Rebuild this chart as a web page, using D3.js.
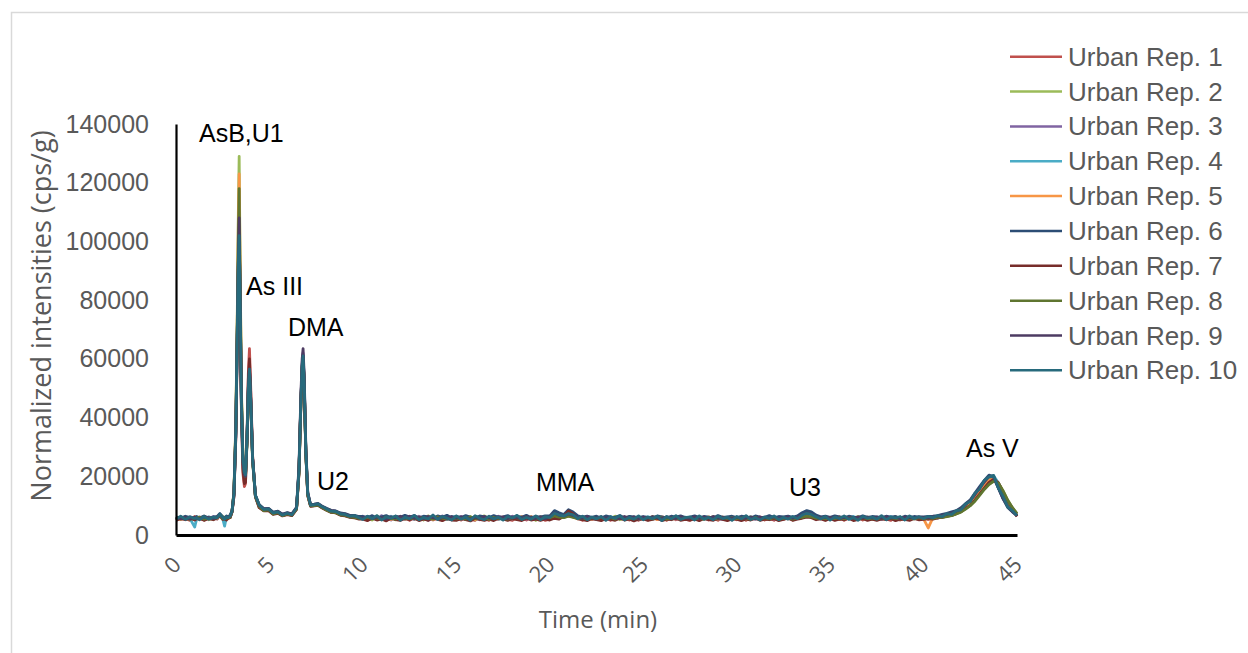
<!DOCTYPE html>
<html>
<head>
<meta charset="utf-8">
<script src="https://cdn.jsdelivr.net/npm/d3@7"></script>
<style>
  html, body { margin: 0; padding: 0; background: #ffffff; }
  svg { display: block; }
</style>
</head>
<body>
<svg id="chart" width="1248" height="653"></svg>
<script>
// Retention time grid (min), shared by all replicate runs
const times = [
  0, 0.25, 0.5, 0.75, 1.0, 1.1, 1.25, 1.5, 1.75, 2.0,
  2.2, 2.35, 2.5, 2.6, 2.7, 2.8, 2.9, 3.0, 3.1, 3.2,
  3.28, 3.34, 3.38, 3.42, 3.5, 3.58, 3.66, 3.72, 3.8, 3.87,
  3.93, 4.0, 4.1, 4.25, 4.45, 4.7, 4.95, 5.2, 5.45, 5.7,
  5.95, 6.2, 6.45, 6.58, 6.68, 6.75, 6.8, 6.86, 6.95, 7.05,
  7.2, 7.4, 7.6, 7.8, 8.05, 8.3, 8.55, 8.8, 9.05, 9.3,
  9.55, 9.8,
  10.0, 10.25, 10.5, 10.75, 11.0, 11.25, 11.5, 11.75, 12.0, 12.25,
  12.5, 12.75, 13.0, 13.25, 13.5, 13.75, 14.0, 14.25, 14.5, 14.75,
  15.0, 15.25, 15.5, 15.75, 16.0, 16.25, 16.5, 16.75, 17.0, 17.25,
  17.5, 17.75, 18.0, 18.25, 18.5, 18.75, 19.0, 19.25, 19.5, 19.75,
  20.0, 20.25, 20.5, 20.75, 21.0, 21.25, 21.5, 21.75, 22.0, 22.25,
  22.5, 22.75, 23.0, 23.25, 23.5, 23.75, 24.0, 24.25, 24.5, 24.75,
  25.0, 25.25, 25.5, 25.75, 26.0, 26.25, 26.5, 26.75, 27.0, 27.25,
  27.5, 27.75, 28.0, 28.25, 28.5, 28.75, 29.0, 29.25, 29.5, 29.75,
  30.0, 30.25, 30.5, 30.75, 31.0, 31.25, 31.5, 31.75, 32.0, 32.25,
  32.5, 32.75, 33.0, 33.25, 33.5, 33.75, 34.0, 34.25, 34.5, 34.75,
  35.0, 35.25, 35.5, 35.75, 36.0, 36.25, 36.5, 36.75, 37.0, 37.25,
  37.5, 37.75, 38.0, 38.25, 38.5, 38.75, 39.0, 39.25, 39.5, 39.75,
  40.0, 40.25, 40.5, 40.75, 41.0, 41.25, 41.5, 41.75, 42.0, 42.25,
  42.5, 42.75, 43.0, 43.25, 43.5, 43.75, 44.0, 44.25, 44.5, 44.75, 45.0
];

// Normalized intensities (cps/g) for each replicate
const rep1 = [
  5200, 6000, 5600, 5000, 6300, 5400, 5800, 5100, 6100, 5300,
  6200, 6700, 5700, 5200, 6000, 5600, 6300, 7900, 13000, 33000,
  66000, 92000, 104000, 84000, 42000, 21000, 16500, 17500, 34000, 55000,
  63500, 50000, 27000, 13000, 9400, 8300, 8500, 7200, 7600, 6600,
  7100, 6700, 8800, 21000, 44000, 56000, 60500, 51500, 27500, 13500,
  9800, 10000, 10200, 9400, 8700, 7800, 7700, 6900, 6600, 6200,
  6300, 5600,
  6100, 5000, 5900, 5300, 6300, 4900, 5700, 6000, 5200, 6200,
  5000, 6100, 5700, 5200, 6400, 5100, 5800, 5000, 6200, 5500,
  5900, 5100, 6300, 5400, 5000, 6100, 5600, 5000, 6000, 5300,
  6200, 5400, 5000, 6100, 5700, 5100, 6300, 5200, 5900, 5000,
  5400, 6500, 5600, 6600, 8000, 7000, 5900, 5000, 6100, 5300,
  6000, 5200, 5800, 5000, 6300, 5400, 5900, 5100, 6200, 5000,
  5700, 5100, 6200, 5300, 5900, 5000, 6100, 5200, 5800, 5400,
  5000, 6000, 5300, 6200, 5100, 5800, 5000, 6100, 5400, 5900,
  5200, 6100, 5000, 5900, 5400, 6200, 5100, 5700, 5000, 6000,
  5300, 6200, 5100, 5800, 6200, 6700, 6400, 5500, 6000, 5100,
  6000, 5200, 6200, 5000, 5800, 5300, 6100, 5100, 5900, 5400,
  5200, 5900, 5500, 5000, 6300, 5100, 5700, 5400, 6000, 5200,
  5900, 5300, 5700, 6000, 6100, 6800, 6900, 7500, 8300, 9500,
  10400, 12400, 14200, 16400, 18300, 19200, 17500, 14500, 11200, 8700, 6300
];
const rep2 = [
  6000, 5400, 6200, 5700, 5300, 6100, 5500, 6400, 5200, 5800,
  5600, 6900, 6300, 5900, 5500, 6400, 6000, 8000, 15000, 38000,
  76000, 112000, 129000, 100000, 50000, 27000, 21000, 20000, 31000, 48000,
  55000, 45000, 25500, 13200, 9900, 8400, 8700, 7300, 7700, 6700,
  7300, 6800, 9000, 21500, 44500, 57000, 60500, 51000, 27500, 13800,
  10000, 10100, 10300, 9500, 8600, 8000, 7700, 7000, 6800, 6300,
  6200, 5800,
  5700, 6200, 5100, 6500, 5400, 5900, 6300, 5200, 6000, 5600,
  6300, 5400, 5900, 5100, 6500, 5600, 6100, 5300, 6200, 5800,
  5300, 6000, 5700, 6300, 5200, 5900, 6500, 5400, 6100, 5600,
  5900, 5500, 6300, 5300, 6100, 5600, 6200, 5000, 6300, 5700,
  5800, 6600, 6200, 6000, 6500, 6300, 5700, 6200, 5500, 5900,
  6200, 5400, 6000, 5600, 6400, 5200, 5800, 6300, 5500, 5900,
  5900, 5300, 6300, 5700, 5500, 6100, 5300, 5900, 6200, 5400,
  5600, 6300, 5100, 5900, 5600, 6300, 5500, 5900, 5300, 6200,
  5500, 6000, 5400, 6200, 5700, 5500, 5900, 5300, 6100, 5600,
  6100, 5700, 5500, 6200, 5900, 6500, 6300, 5800, 6100, 5600,
  5700, 5900, 5300, 6200, 5600, 5800, 6300, 5500, 6100, 5300,
  6000, 5400, 5800, 5600, 6200, 5500, 6000, 5300, 5900, 5600,
  5400, 5900, 5600, 5800, 6100, 6400, 6700, 7300, 7900, 9000,
  10300, 11800, 13800, 15700, 17300, 18400, 17700, 15200, 12000, 9200, 7300
];
const rep3 = [
  5600, 5900, 5400, 6200, 5700, 5500, 6100, 5800, 5500, 6300,
  5400, 6800, 5800, 5600, 5800, 6200, 6000, 8100, 13800, 34000,
  68000, 93000, 106000, 85000, 44000, 24000, 20000, 20500, 32000, 49000,
  56000, 45500, 25800, 13400, 9900, 8600, 8700, 7400, 7800, 6800,
  7300, 7000, 9100, 22500, 46000, 58500, 62000, 53000, 28500, 14200,
  10100, 10200, 10400, 9600, 8800, 7900, 7800, 7100, 6800, 6400,
  6000, 6200,
  6400, 5500, 6100, 5300, 6600, 5600, 5100, 6300, 5700, 5400,
  5900, 5300, 6400, 5800, 5000, 6200, 5700, 6500, 5400, 6100,
  5600, 6300, 5300, 6000, 5900, 5200, 6200, 5700, 5300, 6400,
  5800, 5200, 6400, 5500, 6200, 5400, 5800, 5900, 5500, 6000,
  6200, 7000, 6400, 6300, 6900, 6500, 5900, 5500, 6000, 5700,
  5300, 6100, 5700, 5400, 6000, 5900, 5400, 6300, 5700, 5200,
  6000, 5600, 5400, 6100, 5700, 5500, 6200, 5400, 6000, 5700,
  5900, 5400, 6100, 5700, 5300, 6200, 5600, 5300, 5900, 5500,
  5800, 5300, 6100, 5700, 5400, 6000, 5500, 6200, 5400, 5900,
  5600, 6000, 5700, 5900, 6300, 6900, 6600, 5900, 5600, 6000,
  5500, 6100, 5800, 5400, 6100, 5600, 5500, 6200, 5400, 5800,
  5700, 5300, 6100, 5700, 5400, 5900, 5800, 5500, 6100, 5400,
  5800, 5600, 6100, 5700, 6600, 6500, 7400, 7600, 8800, 10000,
  11500, 13000, 15600, 17500, 19500, 19400, 16200, 12400, 9900, 8000, 6700
];
const rep4 = [
  5900, 5500, 6100, 5600, 2700, 5400, 6000, 5500, 6200, 5700,
  5900, 6700, 5600, 3000, 6100, 5800, 6400, 8000, 13500, 34500,
  69000, 92500, 101000, 84500, 45000, 25000, 21000, 20500, 32500, 49500,
  56000, 45500, 25500, 13000, 10000, 8600, 8800, 7500, 7800, 6700,
  7400, 6900, 9000, 21800, 44800, 57200, 60800, 51800, 27800, 13900,
  10000, 10200, 10400, 9600, 8800, 8000, 7900, 7100, 6900, 6300,
  6400, 5700,
  5500, 6300, 5800, 5400, 6100, 5600, 6400, 5300, 5900, 6200,
  5700, 6000, 5400, 6300, 5900, 5500, 6000, 5800, 5300, 6300,
  6100, 5700, 5900, 5500, 6200, 6000, 5600, 5900, 6300, 5400,
  5600, 6000, 5500, 6200, 5800, 6300, 5700, 5500, 6100, 5800,
  5900, 6800, 6400, 6100, 6700, 6200, 5800, 5600, 6200, 5500,
  5800, 5900, 5400, 6300, 5600, 6000, 5700, 5500, 6100, 5800,
  5500, 6200, 5800, 5600, 6000, 5700, 5600, 6200, 5500, 6100,
  5800, 5600, 6200, 5400, 5900, 5700, 6100, 5500, 6000, 5600,
  6000, 5600, 5800, 6100, 5500, 5900, 5700, 5400, 6100, 5800,
  5500, 6100, 5800, 5600, 6200, 6800, 6500, 5900, 5700, 5900,
  5900, 5500, 6000, 5800, 5500, 6300, 5700, 5900, 5500, 6000,
  5600, 6000, 5700, 6300, 5500, 5800, 6000, 5600, 5800, 6100,
  5700, 6000, 6200, 6400, 6300, 7000, 7200, 8000, 8500, 9800,
  11200, 13000, 15000, 17300, 19300, 20200, 17800, 14000, 10500, 8500, 6900
];
const rep5 = [
  5700, 5300, 5900, 5500, 6100, 5800, 5300, 6000, 5600, 5900,
  5500, 6900, 5800, 5700, 6000, 5600, 6200, 8100, 14500, 37000,
  74000, 108000, 123000, 96000, 49000, 26500, 22000, 21000, 32000, 49000,
  55500, 45000, 25500, 13300, 9800, 8500, 8600, 7300, 7700, 6600,
  7300, 6900, 9000, 21800, 45000, 57300, 60800, 51500, 27800, 13900,
  10100, 10100, 10300, 9500, 8700, 7900, 7800, 7000, 6800, 6300,
  6100, 5800,
  5900, 5400, 6200, 5700, 5500, 6300, 5300, 5800, 6100, 5500,
  5500, 6200, 5800, 5500, 6100, 5300, 6000, 5700, 6300, 5400,
  5800, 5500, 6100, 5700, 5300, 6200, 5800, 5500, 5800, 6000,
  5400, 5900, 5700, 5400, 6300, 5800, 5500, 6100, 5600, 5900,
  5600, 6700, 6000, 6200, 6500, 6200, 5500, 5900, 5700, 5400,
  5900, 5600, 6200, 5800, 5300, 6100, 5700, 5600, 5900, 5700,
  5800, 5500, 5900, 5300, 6200, 5800, 5700, 5500, 6100, 5600,
  5400, 6000, 5800, 5600, 6200, 5500, 5900, 5700, 5600, 6100,
  5700, 5900, 5600, 5500, 6200, 5800, 5400, 6000, 5700, 5500,
  5900, 5500, 6000, 5700, 6000, 6600, 6300, 5600, 6000, 5700,
  5600, 5800, 5400, 6100, 5900, 5500, 6100, 5700, 5800, 5600,
  5900, 5600, 5500, 5900, 6000, 5600, 5500, 6100, 5700, 5800,
  5500, 2400, 5900, 6100, 6500, 6800, 7200, 7900, 8600, 9600,
  11000, 12600, 14600, 17000, 19000, 19600, 17300, 13800, 10400, 8400, 6800
];
const rep6 = [
  6200, 5700, 6400, 5900, 5600, 6300, 5800, 6500, 5700, 6100,
  6300, 7300, 6200, 5900, 6500, 6100, 6800, 8300, 14200, 35500,
  70500, 95000, 103000, 86500, 46500, 26000, 21500, 20500, 33000, 50500,
  57000, 46000, 26000, 13500, 10400, 9000, 9100, 7800, 8100, 7100,
  7600, 7200, 9300, 22200, 45500, 57800, 61300, 52300, 28300, 14300,
  10400, 10500, 10800, 9900, 9100, 8400, 8200, 7500, 7300, 6700,
  6700, 6300,
  6300, 5900, 6600, 5700, 6200, 6600, 5800, 6400, 6000, 6700,
  6100, 6600, 5800, 6400, 6200, 5700, 6500, 6000, 6700, 5800,
  6400, 5900, 6600, 6100, 5700, 6500, 6200, 5900, 6600, 6000,
  6200, 6600, 5800, 6400, 6000, 6700, 5900, 6300, 6100, 6500,
  6500, 8300, 7600, 7000, 8600, 7800, 6500, 6100, 6400, 6000,
  6400, 5800, 6500, 6100, 6000, 6600, 5800, 6300, 6200, 5900,
  6300, 6000, 5800, 6500, 6200, 5800, 6400, 6100, 6500, 5900,
  6100, 6500, 5900, 6300, 6100, 5800, 6600, 6000, 6200, 6400,
  5900, 6400, 6200, 5800, 6500, 6100, 6000, 6600, 5900, 6300,
  6200, 6400, 6000, 6500, 7600, 8300, 7900, 6800, 6200, 6400,
  6000, 6500, 6200, 5900, 6400, 6100, 5900, 6500, 6000, 6300,
  6200, 5900, 6400, 6100, 6300, 5800, 6400, 6000, 6300, 6100,
  6200, 6300, 6400, 6600, 7000, 7400, 7900, 8300, 9300, 10700,
  12000, 14300, 16500, 18600, 20400, 19900, 16000, 12400, 9400, 7900, 6600
];
const rep7 = [
  5000, 5600, 5200, 5800, 5100, 5500, 5700, 5000, 5600, 5200,
  5800, 6500, 5300, 5500, 5100, 5800, 5900, 7800, 13200, 33500,
  67000, 93500, 105000, 85000, 43500, 22500, 17500, 18000, 33500, 53000,
  60000, 48000, 26500, 13000, 9300, 8200, 8300, 7000, 7400, 6500,
  6900, 6600, 8700, 21000, 44000, 56500, 60000, 51000, 27000, 13300,
  9800, 9900, 10100, 9300, 8400, 7700, 7500, 6700, 6500, 6000,
  5800, 5400,
  5400, 4900, 5700, 5100, 5500, 4800, 5800, 5200, 5000, 5600,
  5200, 5700, 4900, 5500, 5000, 5800, 5300, 4900, 5600, 5100,
  5000, 5600, 5200, 4800, 5700, 5300, 5000, 5500, 4900, 5700,
  5500, 5000, 5600, 5200, 4900, 5700, 5100, 5400, 5000, 5500,
  5100, 5700, 5400, 6400, 8200, 7200, 5500, 5200, 4900, 5600,
  5200, 4900, 5600, 5300, 5000, 5700, 5100, 5500, 4800, 5400,
  5500, 5000, 5300, 5700, 4900, 5400, 5200, 5800, 5000, 5300,
  5100, 5500, 4900, 5600, 5200, 5000, 5700, 5300, 4900, 5500,
  5400, 4900, 5500, 5100, 5700, 5000, 5400, 5200, 5600, 4900,
  5300, 5700, 5000, 5400, 5700, 6100, 5900, 5200, 5500, 5000,
  5600, 5000, 5400, 5200, 5700, 4900, 5300, 5600, 5000, 5400,
  5000, 5500, 5200, 5600, 4900, 5400, 5300, 5000, 5600, 5200,
  5300, 5600, 5400, 5800, 6000, 6400, 6700, 7300, 8000, 9100,
  10100, 11900, 13900, 16000, 17900, 18900, 17800, 14800, 11600, 9200, 6400
];
const rep8 = [
  5400, 6000, 5700, 5300, 5900, 5600, 6100, 5400, 5800, 5500,
  6100, 6700, 5500, 5800, 5700, 6000, 6100, 8000, 14500, 36500,
  73000, 103000, 118000, 92000, 48000, 25500, 20500, 20000, 31500, 48500,
  55000, 44500, 25000, 13000, 9700, 8300, 8600, 7200, 7600, 6600,
  7200, 6800, 8900, 21500, 44500, 56800, 60300, 51200, 27300, 13600,
  9900, 10000, 10200, 9400, 8500, 7800, 7600, 6900, 6700, 6200,
  6000, 5700,
  5600, 6000, 5500, 5800, 5300, 6100, 5700, 5400, 6200, 5500,
  5900, 5500, 6100, 5600, 5800, 5400, 6200, 5700, 5500, 6000,
  5500, 5900, 5400, 6100, 5700, 5600, 5900, 5300, 6000, 5700,
  5700, 5400, 6000, 5800, 5500, 6200, 5600, 5800, 5400, 6100,
  5900, 6500, 6100, 5900, 6400, 6000, 5600, 5800, 5400, 5900,
  5700, 6000, 5500, 5900, 5400, 5800, 6100, 5600, 5800, 5500,
  5600, 5900, 5500, 6000, 5800, 5400, 5900, 5700, 5500, 6000,
  5900, 5600, 5700, 5400, 6000, 5700, 5500, 6100, 5600, 5800,
  5600, 5800, 5700, 5400, 6000, 5600, 5800, 5500, 5900, 5400,
  5700, 5900, 5400, 5800, 6000, 6400, 6200, 5700, 5800, 5500,
  5800, 5600, 5900, 5500, 6000, 5700, 5500, 5900, 5600, 5700,
  5500, 5800, 5600, 5800, 5700, 5500, 5900, 5700, 5500, 5900,
  5600, 5800, 5700, 6000, 6000, 6300, 6600, 7200, 7800, 8800,
  10000, 11500, 13500, 15500, 17200, 18300, 17700, 15000, 11800, 9400, 7300
];
const rep9 = [
  5800, 5500, 6000, 5400, 6100, 5700, 5500, 6200, 5900, 5600,
  6000, 7000, 5900, 5600, 5900, 6300, 6400, 8200, 14000, 35000,
  69500, 95500, 108000, 87000, 45000, 25000, 20500, 20000, 32500, 50000,
  56500, 46000, 26000, 13500, 10100, 8900, 9000, 7600, 8000, 7000,
  7500, 7100, 9400, 23500, 47500, 60000, 63500, 54500, 29500, 14500,
  10300, 10400, 10600, 9800, 9000, 8300, 8100, 7300, 7100, 6500,
  6500, 6000,
  5800, 6300, 5600, 6100, 5900, 5400, 6200, 5800, 6400, 5700,
  6400, 5700, 6000, 5500, 6300, 5900, 5600, 6200, 5700, 6300,
  5700, 6200, 5900, 5400, 6100, 5600, 6300, 5800, 5600, 6200,
  6000, 5600, 6100, 5900, 5600, 6300, 5800, 5600, 6200, 5500,
  6300, 7500, 6700, 6500, 7200, 6700, 6000, 5700, 6300, 5800,
  5800, 6200, 5700, 6100, 5800, 5500, 6300, 5800, 6100, 5600,
  6100, 5700, 6300, 5800, 5600, 6200, 5900, 5600, 6300, 5800,
  5700, 6200, 5600, 6100, 5800, 6300, 5700, 6000, 5800, 5600,
  6100, 5800, 5700, 6200, 5600, 6100, 5900, 5800, 6200, 5700,
  5900, 6200, 5700, 6100, 6900, 7500, 7200, 6300, 5900, 6100,
  5800, 6200, 5700, 6000, 5900, 5700, 6200, 5800, 6100, 5700,
  6100, 5700, 6200, 5800, 6000, 5600, 6100, 5900, 5700, 6200,
  6000, 5800, 6200, 6400, 6700, 7100, 7500, 8200, 8900, 10300,
  11700, 13700, 16000, 18000, 19900, 19800, 16100, 12600, 9700, 8000, 6700
];
const rep10 = [
  5500, 6400, 5300, 6200, 5600, 5900, 5200, 6300, 5400, 6100,
  5800, 7100, 6000, 5400, 6200, 5900, 6600, 8200, 14000, 35000,
  70000, 94000, 102000, 86000, 46000, 26000, 21500, 20500, 33000, 50000,
  56500, 46000, 26000, 13500, 10200, 8700, 8900, 7500, 7900, 6800,
  7400, 6900, 9200, 22000, 45000, 57500, 61000, 52000, 28000, 14000,
  10200, 10300, 10600, 9700, 8900, 8100, 8000, 7200, 7000, 6400,
  6600, 5900,
  5300, 6400, 5600, 6600, 5100, 6200, 5700, 6500, 5000, 6100,
  5600, 6700, 5200, 6000, 5500, 6800, 5300, 6300, 5800, 5100,
  6500, 5400, 6200, 5000, 6600, 5700, 5200, 6400, 5500, 6100,
  5100, 6300, 5800, 6700, 5300, 6000, 5400, 6500, 5200, 6200,
  6000, 7400, 6800, 6500, 7300, 6900, 5600, 6400, 5200, 6100,
  5500, 6300, 5000, 6200, 5700, 6600, 5100, 6000, 5400, 6500,
  5200, 6100, 5600, 6400, 4900, 6300, 5500, 6600, 5300, 5900,
  6200, 5100, 6500, 5400, 6000, 5200, 6400, 5600, 6100, 5000,
  6300, 5500, 6600, 5300, 5900, 5100, 6200, 5700, 6500, 5200,
  6000, 5400, 6300, 5600, 6800, 7400, 7000, 6200, 5500, 6300,
  5100, 6200, 5600, 6500, 5300, 6000, 5000, 6400, 5700, 6100,
  5400, 6600, 5200, 6100, 5800, 6300, 5100, 6500, 5600, 6200,
  5600, 6300, 5900, 6600, 6300, 7300, 7000, 8300, 8600, 10600,
  11400, 14200, 15600, 18600, 19800, 20300, 16000, 13200, 9600, 8300, 6600
];

const seriesNames = [
  "Urban Rep. 1", "Urban Rep. 2", "Urban Rep. 3", "Urban Rep. 4", "Urban Rep. 5",
  "Urban Rep. 6", "Urban Rep. 7", "Urban Rep. 8", "Urban Rep. 9", "Urban Rep. 10"
];
const seriesValues = [rep1, rep2, rep3, rep4, rep5, rep6, rep7, rep8, rep9, rep10];
const seriesColors = [
  "#C0504D", "#9BBB59", "#8064A2", "#4BACC6", "#F79646",
  "#2C4D75", "#772C2A", "#5F7530", "#4D3B62", "#276A7C"
];

const xTicks = [0, 5, 10, 15, 20, 25, 30, 35, 40, 45];
const yTicks = [0, 20000, 40000, 60000, 80000, 100000, 120000, 140000];

// Species labels and the (time, intensity) point where each label starts
const peakLabels = ["AsB,U1", "As III", "DMA", "U2", "MMA", "U3", "As V"];
const peakLabelTimes = [1.23, 3.75, 5.99, 7.54, 19.26, 32.8, 42.27];
const peakLabelLevels = [133900, 81700, 67800, 15300, 15000, 13300, 26600];

const svg = d3.select("#chart");

// Chart area frame
svg.append("rect")
  .attr("x", 11.5).attr("y", 12.5)
  .attr("width", 1260).attr("height", 660)
  .attr("fill", "#ffffff")
  .attr("stroke", "#d9d9d9")
  .attr("stroke-width", 1.5);

const x = d3.scaleLinear().domain([0, 45]).range([176, 1017]);
const y = d3.scaleLinear().domain([0, 140000]).range([535, 124]);

// Chromatogram traces, replicate 10 drawn last (on top)
const line = d3.line()
  .x((d, i) => x(times[i]))
  .y(d => y(d));

svg.append("g").attr("class", "traces")
  .selectAll("path")
  .data(seriesValues)
  .join("path")
  .attr("d", d => line(d))
  .attr("fill", "none")
  .attr("stroke", (d, i) => seriesColors[i])
  .attr("stroke-width", 2.8)
  .attr("stroke-linejoin", "round");

// Y axis
const yAxis = svg.append("g")
  .attr("transform", "translate(176,0)")
  .call(d3.axisLeft(y).tickValues(yTicks).tickSize(0).tickSizeOuter(0).tickPadding(27).tickFormat(d3.format("d")));
yAxis.select(".domain").attr("stroke", "#000").attr("stroke-width", 2.2);
yAxis.selectAll("text")
  .attr("fill", "#595959")
  .style("font-family", "'Liberation Sans', Arial, sans-serif")
  .style("font-size", "25px");

// X axis
const xAxis = svg.append("g")
  .attr("transform", "translate(0,535)")
  .call(d3.axisBottom(x).tickValues(xTicks).tickSize(0).tickSizeOuter(0).tickFormat(d3.format("d")));
xAxis.select(".domain").attr("stroke", "#000").attr("stroke-width", 2.8);
xAxis.selectAll("text")
  .attr("fill", "#595959")
  .attr("text-anchor", "end")
  .attr("y", 0).attr("dy", 0)
  .attr("transform", "translate(6,31) rotate(-45)")
  .style("font-family", "'Open Sans', sans-serif")
  .style("font-size", "22px");

// Axis titles
svg.append("text")
  .attr("x", 598).attr("y", 618)
  .attr("text-anchor", "middle")
  .attr("dominant-baseline", "central")
  .attr("fill", "#595959")
  .style("font-family", "'Open Sans', sans-serif")
  .style("font-size", "24px")
  .text("Time (min)");

svg.append("text")
  .attr("transform", "translate(51,316) rotate(-90)")
  .attr("text-anchor", "middle")
  .attr("fill", "#595959")
  .style("font-family", "'Open Sans', sans-serif")
  .style("font-size", "27px")
  .text("Normalized intensities (cps/g)");

// Peak annotations
svg.append("g").attr("class", "peak-labels")
  .selectAll("text")
  .data(peakLabels)
  .join("text")
  .attr("x", (d, i) => x(peakLabelTimes[i]))
  .attr("y", (d, i) => y(peakLabelLevels[i]))
  .attr("fill", "#000")
  .style("font-family", "'Liberation Sans', Arial, sans-serif")
  .style("font-size", "25px")
  .text(d => d);

// Legend
const legend = svg.append("g").attr("class", "legend");
const rows = legend.selectAll("g")
  .data(seriesNames)
  .join("g")
  .attr("transform", (d, i) => `translate(1010,${56.7 + i * 34.85})`);
rows.append("line")
  .attr("x1", 0).attr("x2", 52)
  .attr("stroke", (d, i) => seriesColors[i])
  .attr("stroke-width", 2.5);
rows.append("text")
  .attr("x", 58)
  .attr("dominant-baseline", "central")
  .attr("fill", "#595959")
  .style("font-family", "'Liberation Sans', Arial, sans-serif")
  .style("font-size", "26px")
  .text(d => d);
</script>
</body>
</html>
